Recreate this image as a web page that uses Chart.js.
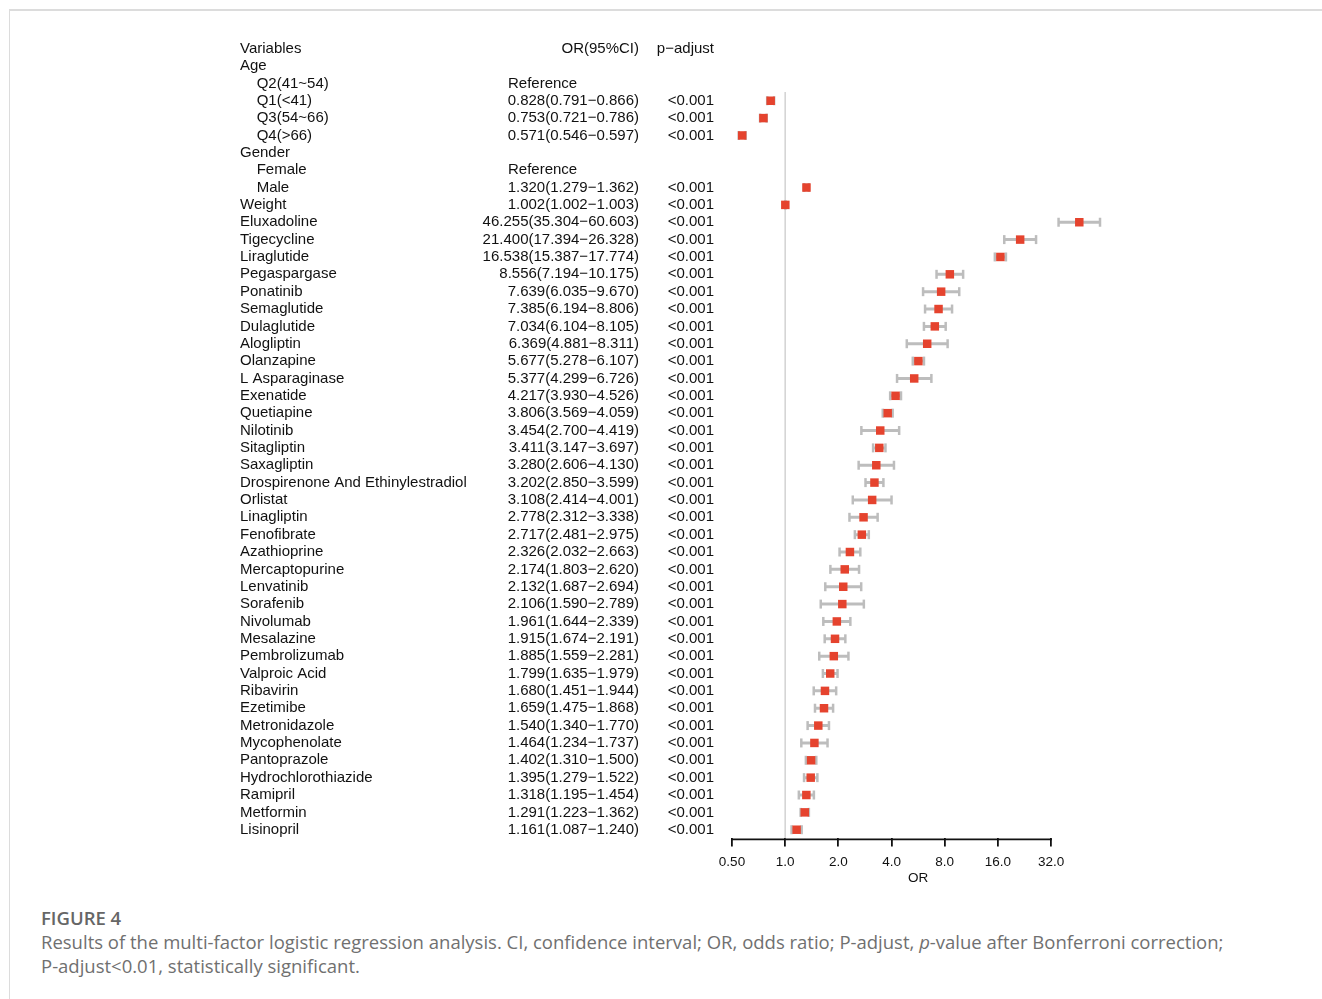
<!DOCTYPE html>
<html>
<head>
<meta charset="utf-8">
<title>Figure 4</title>
<script src="https://cdn.jsdelivr.net/npm/chart.js@4.4.1/dist/chart.umd.min.js"></script>
<style>
  html, body { margin: 0; padding: 0; background: #fff; }
  body { width: 1322px; height: 999px; position: relative; overflow: hidden; }
  .frame { position: absolute; left: 9px; top: 9px; right: 0; bottom: 0; border-top: 2px solid #dcdcdc; border-left: 1px solid #dcdcdc; }
  #chartWrap { position: absolute; left: 0; top: 0; width: 1322px; height: 900px; }
  .caption { position: absolute; left: 41px; top: 906px; font-family: "Open Sans", sans-serif; color: #707070; font-size: 18.5px; line-height: 24px; white-space: nowrap; }
  .caption .fig { font-weight: 600; font-size: 18.5px; color: #666; }
</style>
</head>
<body>
<div class="frame"></div>
<div id="chartWrap"><canvas id="forest" width="1322" height="900"></canvas></div>
<div class="caption">
  <div class="fig">FIGURE 4</div>
  <div>Results of the multi-factor logistic regression analysis. CI, confidence interval; OR, odds ratio; P-adjust, <i>p</i>-value after Bonferroni correction;</div>
  <div>P-adjust&lt;0.01, statistically significant.</div>
</div>
<script>
// ---- data ----
const columnHeaders = ['Variables', 'OR(95%CI)', 'p\u2212adjust'];

const variables = [
  'Age', '    Q2(41~54)', '    Q1(<41)', '    Q3(54~66)', '    Q4(>66)',
  'Gender', '    Female', '    Male', 'Weight',
  'Eluxadoline', 'Tigecycline', 'Liraglutide', 'Pegaspargase', 'Ponatinib',
  'Semaglutide', 'Dulaglutide', 'Alogliptin', 'Olanzapine', 'L Asparaginase',
  'Exenatide', 'Quetiapine', 'Nilotinib', 'Sitagliptin', 'Saxagliptin',
  'Drospirenone And Ethinylestradiol', 'Orlistat', 'Linagliptin', 'Fenofibrate', 'Azathioprine',
  'Mercaptopurine', 'Lenvatinib', 'Sorafenib', 'Nivolumab', 'Mesalazine',
  'Pembrolizumab', 'Valproic Acid', 'Ribavirin', 'Ezetimibe', 'Metronidazole',
  'Mycophenolate', 'Pantoprazole', 'Hydrochlorothiazide', 'Ramipril', 'Metformin',
  'Lisinopril'
];

// 'ref' = reference level, null = group heading
const orValue = [
  null, 'ref', 0.828, 0.753, 0.571,
  null, 'ref', 1.320, 1.002,
  46.255, 21.400, 16.538, 8.556, 7.639,
  7.385, 7.034, 6.369, 5.677, 5.377,
  4.217, 3.806, 3.454, 3.411, 3.280,
  3.202, 3.108, 2.778, 2.717, 2.326,
  2.174, 2.132, 2.106, 1.961, 1.915,
  1.885, 1.799, 1.680, 1.659, 1.540,
  1.464, 1.402, 1.395, 1.318, 1.291,
  1.161
];
const ciLower = [
  null, null, 0.791, 0.721, 0.546,
  null, null, 1.279, 1.002,
  35.304, 17.394, 15.387, 7.194, 6.035,
  6.194, 6.104, 4.881, 5.278, 4.299,
  3.930, 3.569, 2.700, 3.147, 2.606,
  2.850, 2.414, 2.312, 2.481, 2.032,
  1.803, 1.687, 1.590, 1.644, 1.674,
  1.559, 1.635, 1.451, 1.475, 1.340,
  1.234, 1.310, 1.279, 1.195, 1.223,
  1.087
];
const ciUpper = [
  null, null, 0.866, 0.786, 0.597,
  null, null, 1.362, 1.003,
  60.603, 26.328, 17.774, 10.175, 9.670,
  8.806, 8.105, 8.311, 6.107, 6.726,
  4.526, 4.059, 4.419, 3.697, 4.130,
  3.599, 4.001, 3.338, 2.975, 2.663,
  2.620, 2.694, 2.789, 2.339, 2.191,
  2.281, 1.979, 1.944, 1.868, 1.770,
  1.737, 1.500, 1.522, 1.454, 1.362,
  1.240
];
const pAdjust = variables.map((_, i) => typeof orValue[i] === 'number' ? '<0.001' : '');

const xTicks = [0.5, 1, 2, 4, 8, 16, 32];
const xTickLabels = ['0.50', '1.0', '2.0', '4.0', '8.0', '16.0', '32.0'];
const xLimits = [0.5, 64];
const refLine = 1;

// ---- build datasets (row index: 0 = header, variables start at 1) ----
const rowOf = i => i + 1;
const estRows = variables.map((_, i) => i).filter(i => typeof orValue[i] === 'number');

const pointData = estRows.map(i => ({ x: orValue[i], y: rowOf(i) }));
const ciData = [];
estRows.forEach(i => {
  ciData.push({ x: ciLower[i], y: rowOf(i) }, { x: ciUpper[i], y: rowOf(i) }, { x: null, y: null });
});
const lastRow = variables.length;

const orText = i => {
  const v = orValue[i];
  if (v === 'ref') return 'Reference';
  if (v === null) return '';
  return `${v.toFixed(3)}(${ciLower[i].toFixed(3)}\u2212${ciUpper[i].toFixed(3)})`;
};

const FONT = '"Liberation Sans", Arial, Helvetica, sans-serif';

// table columns + axis line limited to the tick range
const tablePlugin = {
  id: 'forestTable',
  afterDraw(chart) {
    const { ctx, scales: { x, y } } = chart;
    ctx.save();

    ctx.strokeStyle = '#111';
    ctx.lineWidth = 1.8;
    ctx.beginPath();
    ctx.moveTo(x.getPixelForValue(xTicks[0]) - 0.9, x.top + 0.9);
    ctx.lineTo(x.getPixelForValue(xTicks[xTicks.length - 1]) + 0.9, x.top + 0.9);
    ctx.stroke();

    ctx.font = `15px ${FONT}`;
    ctx.fillStyle = '#111';
    ctx.textBaseline = 'middle';

    const hy = y.getPixelForValue(0);
    ctx.textAlign = 'left';  ctx.fillText(columnHeaders[0], 240, hy);
    ctx.textAlign = 'right'; ctx.fillText(columnHeaders[1], 639, hy);
    ctx.textAlign = 'right'; ctx.fillText(columnHeaders[2], 714, hy);

    variables.forEach((name, i) => {
      const py = y.getPixelForValue(rowOf(i));
      ctx.textAlign = 'left';
      ctx.fillText(name, 240, py);
      if (orValue[i] === 'ref') {
        ctx.fillText(orText(i), 508, py);
      } else {
        ctx.textAlign = 'right';
        ctx.fillText(orText(i), 639, py);
      }
      ctx.textAlign = 'right';
      ctx.fillText(pAdjust[i], 714, py);
    });
    ctx.restore();
  }
};

new Chart(document.getElementById('forest'), {
  type: 'scatter',
  data: {
    datasets: [
      {
        label: 'OR',
        data: pointData,
        pointStyle: 'rect',
        pointRadius: 6,
        backgroundColor: '#e5432e',
        borderColor: '#e5432e',
        borderWidth: 0,
        clip: false
      },
      {
        label: '95% CI',
        data: ciData,
        showLine: true,
        spanGaps: false,
        borderColor: '#bdbdbd',
        borderWidth: 3,
        borderCapStyle: 'butt',
        pointStyle: 'line',
        pointRotation: 90,
        pointRadius: 4.5,
        pointBorderWidth: 2.5,
        pointBorderColor: '#bdbdbd',
        pointBackgroundColor: '#bdbdbd',
        clip: false
      },
      {
        label: 'ref',
        data: [{ x: refLine, y: 2.5 }, { x: refLine, y: lastRow + 0.5 }],
        showLine: true,
        borderColor: '#d2d2d2',
        borderWidth: 1.5,
        pointRadius: 0
      }
    ]
  },
  options: {
    responsive: false,
    devicePixelRatio: 1,
    animation: false,
    events: [],
    layout: { padding: { left: 732, right: 217.8, top: 40, bottom: 11.6 } },
    plugins: { legend: { display: false }, tooltip: { enabled: false } },
    scales: {
      x: {
        type: 'logarithmic',
        position: 'bottom',
        min: xLimits[0],
        max: xLimits[1],
        afterBuildTicks: s => { s.ticks = xTicks.map(v => ({ value: v })); },
        afterFit: s => { s.height = 50; },
        ticks: {
          autoSkip: false,
          maxRotation: 0,
          padding: 8,
          color: '#111',
          font: { family: FONT, size: 13.5 },
          callback: (v, i) => xTickLabels[i]
        },
        title: {
          display: true,
          text: 'OR',
          color: '#111',
          font: { family: FONT, size: 13.5 },
          padding: { top: 0, bottom: 2.4 }
        },
        grid: { display: true, drawOnChartArea: false, drawTicks: true, tickLength: 8, color: '#111', lineWidth: 1.8 },
        border: { display: false }
      },
      y: {
        type: 'linear',
        display: false,
        reverse: true,
        min: -0.5,
        max: lastRow + 0.5
      }
    }
  },
  plugins: [tablePlugin]
});
</script>
</body>
</html>
